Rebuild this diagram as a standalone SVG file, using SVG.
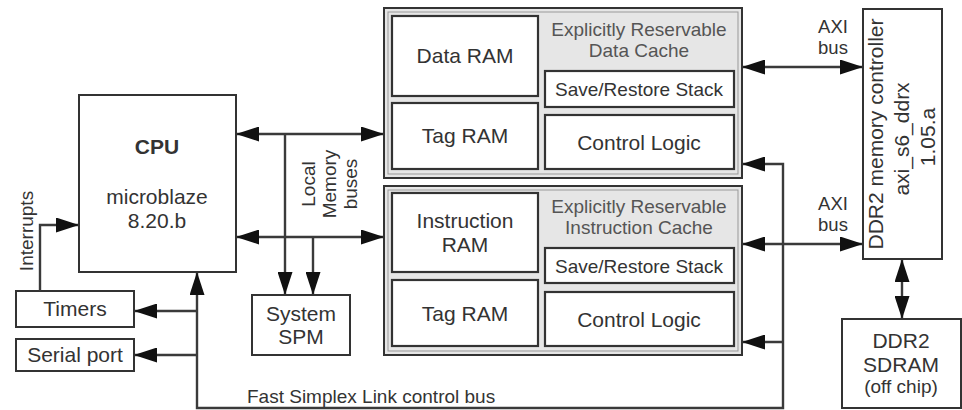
<svg xmlns="http://www.w3.org/2000/svg" width="962" height="410" viewBox="0 0 962 410">
<style>
text{font-family:"Liberation Sans",Arial,sans-serif;fill:#333;text-anchor:middle}
.b{fill:#fff;stroke:#333;stroke-width:2}
.ib{fill:#fff;stroke:#333;stroke-width:2.2}
.cache{fill:#e6e6e6;stroke:#333;stroke-width:2}
.cin{fill:none;stroke:#999;stroke-width:1}
.l{font-size:21px}
.m{font-size:19px}
.t{font-size:19px;fill:#555}
.s{font-size:18.5px}
.w{fill:none;stroke:#3a3a3a;stroke-width:2.4}
</style>
<defs>
<marker id="ah" markerUnits="userSpaceOnUse" viewBox="0 0 23 15" markerWidth="23" markerHeight="15" refX="23" refY="7.5" orient="auto-start-reverse">
<path d="M0,0 L23,7.5 L0,15 z" fill="#111"/>
</marker>
</defs>

<g id="cpu">
<rect class="b" x="79" y="95" width="157" height="177"/>
<text class="l" x="157" y="154" font-weight="bold">CPU</text>
<text class="l" x="157" y="204">microblaze</text>
<text class="l" x="157" y="228">8.20.b</text>
</g>

<g id="timers">
<rect class="b" x="16" y="291" width="118" height="36"/>
<text class="l" x="75" y="316">Timers</text>
</g>

<g id="serial">
<rect class="b" x="16" y="339" width="118" height="32"/>
<text class="l" x="75" y="362">Serial port</text>
</g>

<g id="spm">
<rect class="b" x="252" y="295" width="98" height="60"/>
<text class="l" x="301" y="321">System</text>
<text class="l" x="301" y="344">SPM</text>
</g>

<g id="dcache">
<rect class="cache" x="384" y="8" width="358" height="170"/>
<rect class="cin" x="388" y="12" width="350" height="162"/>
<text class="t" x="639" y="36">Explicitly Reservable</text>
<text class="t" x="639" y="57">Data Cache</text>
<rect class="ib" x="392" y="16" width="146" height="80"/>
<text class="l" x="465" y="63">Data RAM</text>
<rect class="ib" x="392" y="103" width="146" height="66"/>
<text class="l" x="465" y="143">Tag RAM</text>
<rect class="ib" x="545" y="71" width="189" height="36"/>
<text class="m" x="639" y="96">Save/Restore Stack</text>
<rect class="ib" x="545" y="115" width="189" height="54"/>
<text class="l" x="639" y="150">Control Logic</text>
</g>

<g id="icache">
<rect class="cache" x="384" y="186" width="358" height="169"/>
<rect class="cin" x="388" y="190" width="350" height="161"/>
<text class="t" x="639" y="213">Explicitly Reservable</text>
<text class="t" x="639" y="234">Instruction Cache</text>
<rect class="ib" x="392" y="193" width="146" height="79"/>
<text class="l" x="465" y="228">Instruction</text>
<text class="l" x="465" y="252">RAM</text>
<rect class="ib" x="392" y="280" width="146" height="66"/>
<text class="l" x="465" y="321">Tag RAM</text>
<rect class="ib" x="545" y="248" width="189" height="35"/>
<text class="m" x="639" y="273">Save/Restore Stack</text>
<rect class="ib" x="545" y="292" width="189" height="54"/>
<text class="l" x="639" y="327">Control Logic</text>
</g>

<g id="ddrctrl">
<rect class="b" x="863" y="9" width="79" height="250"/>
<text class="l" transform="translate(883,134) rotate(-90)">DDR2 memory controller</text>
<text class="l" transform="translate(909,139) rotate(-90)">axi_s6_ddrx</text>
<text class="l" transform="translate(935,137) rotate(-90)">1.05.a</text>
</g>

<g id="sdram">
<rect class="b" x="842" y="319" width="119" height="89"/>
<text class="l" x="901" y="348">DDR2</text>
<text class="l" x="901" y="372">SDRAM</text>
<text class="m" x="901" y="393">(off chip)</text>
</g>

<g id="connectors">
<line class="w" x1="236" y1="134" x2="384" y2="134" marker-start="url(#ah)" marker-end="url(#ah)"/>
<line class="w" x1="236" y1="237" x2="384" y2="237" marker-start="url(#ah)" marker-end="url(#ah)"/>
<line class="w" x1="285" y1="134" x2="285" y2="295" marker-end="url(#ah)"/>
<line class="w" x1="313" y1="237" x2="313" y2="295" marker-end="url(#ah)"/>
<polyline class="w" points="40,291 40,225 79,225" marker-end="url(#ah)"/>
<polyline class="w" points="197,272 197,408 783,408 783,164 742,164" marker-start="url(#ah)" marker-end="url(#ah)"/>
<line class="w" x1="197" y1="311" x2="134" y2="311" marker-end="url(#ah)"/>
<line class="w" x1="197" y1="355" x2="134" y2="355" marker-end="url(#ah)"/>
<line class="w" x1="783" y1="342" x2="742" y2="342" marker-end="url(#ah)"/>
<line class="w" x1="742" y1="67" x2="863" y2="67" marker-start="url(#ah)" marker-end="url(#ah)"/>
<line class="w" x1="742" y1="244" x2="863" y2="244" marker-start="url(#ah)" marker-end="url(#ah)"/>
<line class="w" x1="902" y1="259" x2="902" y2="319" marker-start="url(#ah)" marker-end="url(#ah)"/>
<text class="m" transform="translate(33,231) rotate(-90)">Interrupts</text>
<text class="m" transform="translate(315,184) rotate(-90)">Local</text>
<text class="m" transform="translate(336,184) rotate(-90)">Memory</text>
<text class="m" transform="translate(357,184) rotate(-90)">buses</text>
<text class="s" x="833" y="33">AXI</text>
<text class="s" x="833" y="54">bus</text>
<text class="s" x="833" y="210">AXI</text>
<text class="s" x="833" y="231">bus</text>
<text class="m" x="247" y="403" style="text-anchor:start">Fast Simplex Link control bus</text>
</g>
</svg>
